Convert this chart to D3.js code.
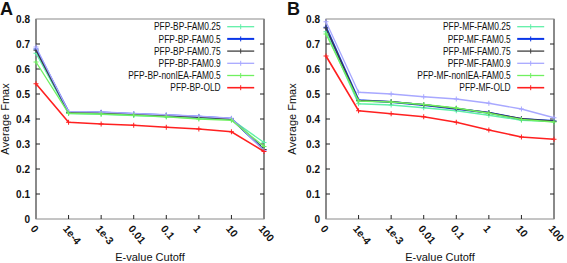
<!DOCTYPE html>
<html><head><meta charset="utf-8">
<script src="https://cdn.jsdelivr.net/npm/d3@7"></script>
<style>body{margin:0;background:#fff}svg{display:block;font-family:"Liberation Sans",Arial,sans-serif}</style>
</head><body><svg id="c" width="567" height="263"></svg>
<script>
const categories = ["0","1e-4","1e-3","0.01","0.1","1","10","100"];
const yTicks = [0,0.1,0.2,0.3,0.4,0.5,0.6,0.7,0.8];
const yTickLabels = ["0","0.1","0.2","0.3","0.4","0.5","0.6","0.7","0.8"];

const bpNames = ["PFP-BP-FAM0.25","PFP-BP-FAM0.5","PFP-BP-FAM0.75","PFP-BP-FAM0.9","PFP-BP-nonIEA-FAM0.5","PFP-BP-OLD"];
const bpFam025 = [0.663,0.422,0.419,0.414,0.409,0.403,0.398,0.306];
const bpFam05  = [0.680,0.428,0.426,0.420,0.415,0.409,0.401,0.277];
const bpFam075 = [0.675,0.427,0.425,0.419,0.414,0.408,0.400,0.278];
const bpFam09  = [0.688,0.430,0.428,0.422,0.417,0.411,0.403,0.274];
const bpNonIEA = [0.628,0.423,0.420,0.415,0.409,0.400,0.395,0.290];
const bpOld    = [0.541,0.387,0.380,0.375,0.367,0.360,0.349,0.270];

const mfNames = ["PFP-MF-FAM0.25","PFP-MF-FAM0.5","PFP-MF-FAM0.75","PFP-MF-FAM0.9","PFP-MF-nonIEA-FAM0.5","PFP-MF-OLD"];
const mfFam025 = [0.749,0.461,0.456,0.445,0.433,0.415,0.395,0.390];
const mfFam05  = [0.767,0.475,0.468,0.456,0.441,0.425,0.400,0.392];
const mfFam075 = [0.764,0.474,0.469,0.457,0.442,0.425,0.401,0.391];
const mfFam09  = [0.789,0.507,0.500,0.489,0.480,0.463,0.440,0.405];
const mfNonIEA = [0.740,0.472,0.468,0.458,0.444,0.423,0.398,0.388];
const mfOld    = [0.652,0.433,0.421,0.409,0.387,0.356,0.328,0.319];

const colors = ["#60f0a8","#0a36e8","#404040","#a8a8ff","#70f060","#ff2020"];
const widths = [1.3,2,1.3,1.3,1.3,1.6];

const svg = d3.select("#c");

function panel(opt){
  const {x0,x1,y0,y1,names,series,letter,lx,ylabX,legendEnd} = opt;
  const g = svg.append("g");
  const x = d3.scalePoint().domain(categories).range([x0,x1]);
  const y = d3.scaleLinear().domain([0,0.8]).range([y0,y1]);
  g.append("rect").attr("x",x0).attr("y",y1).attr("width",x1-x0).attr("height",y0-y1)
    .attr("fill","none").attr("stroke","#8a8a8a").attr("stroke-width",1);
  g.append("line").attr("x1",x0).attr("x2",x0).attr("y1",y1).attr("y2",y0).attr("stroke","#8a8a8a").attr("stroke-width",2);
  g.append("line").attr("x1",x1).attr("x2",x1).attr("y1",y1).attr("y2",y0).attr("stroke","#8a8a8a").attr("stroke-width",2);
  yTicks.forEach((t,i)=>{
    if(t>0 && t<0.8){
      g.append("line").attr("x1",x0).attr("x2",x0+4).attr("y1",y(t)).attr("y2",y(t)).attr("stroke","#222");
      g.append("line").attr("x1",x1).attr("x2",x1-4).attr("y1",y(t)).attr("y2",y(t)).attr("stroke","#222");
    }
    g.append("text").attr("x",x0-6).attr("y",y(t)).attr("dy","0.35em").attr("text-anchor","end")
      .attr("font-size",10).attr("font-weight","bold").attr("fill","#111").text(yTickLabels[i]);
  });
  categories.forEach((c,i)=>{
    if(i>0 && i<categories.length-1){
      g.append("line").attr("x1",x(c)).attr("x2",x(c)).attr("y1",y0).attr("y2",y0-4).attr("stroke","#222");
    }
    g.append("text").attr("transform",`translate(${x(c)-6},${y0+10}) rotate(50)`)
      .attr("font-size",10.5).attr("font-weight","bold").attr("fill","#111")
      .text(c);
  });
  const line = d3.line().x((d,i)=>x(categories[i])).y(d=>y(d));
  series.forEach((s,k)=>{
    g.append("path").datum(s).attr("d",line).attr("fill","none").attr("stroke",colors[k]).attr("stroke-width",widths[k]);
    s.forEach((v,i)=>{
      const px=x(categories[i]), py=y(v);
      g.append("path").attr("d",`M${px-2.5},${py}H${px+2.5}M${px},${py-2.5}V${py+2.5}`).attr("stroke",colors[k]).attr("stroke-width",1);
    });
  });
  names.forEach((n,k)=>{
    const ly = 26.7 + k*12.2;
    const t = g.append("text").attr("x",legendEnd).attr("y",ly).attr("dy","0.36em").attr("text-anchor","end")
      .attr("font-size",10.5).attr("fill","#111").text(n);
    const w = t.node().getComputedTextLength();
    t.attr("textLength",w*0.80).attr("lengthAdjust","spacingAndGlyphs");
    g.append("line").attr("x1",legendEnd+6.5).attr("x2",legendEnd+33.5).attr("y1",ly).attr("y2",ly)
      .attr("stroke",colors[k]).attr("stroke-width",widths[k]);
    g.append("line").attr("x1",legendEnd+20).attr("x2",legendEnd+20).attr("y1",ly-2.5).attr("y2",ly+2.5)
      .attr("stroke",colors[k]).attr("stroke-width",1);
  });
  g.append("text").attr("x",(x0+x1)/2).attr("y",261).attr("text-anchor","middle").attr("font-size",11).attr("fill","#111").text("E-value Cutoff");
  g.append("text").attr("transform",`translate(${ylabX},${(y0+y1)/2}) rotate(-90)`).attr("text-anchor","middle")
    .attr("font-size",11).attr("fill","#111").text("Average Fmax");
  svg.append("text").attr("x",lx).attr("y",15).attr("font-size",18).attr("font-weight","bold").attr("fill","#111").text(letter);
}

panel({x0:36,x1:264,y0:219,y1:19,names:bpNames,series:[bpFam025,bpFam05,bpFam075,bpFam09,bpNonIEA,bpOld],letter:"A",lx:0,ylabX:9,legendEnd:220.7});
panel({x0:326,x1:554,y0:219,y1:19,names:mfNames,series:[mfFam025,mfFam05,mfFam075,mfFam09,mfNonIEA,mfOld],letter:"B",lx:287,ylabX:296,legendEnd:510.7});
</script></body></html>
